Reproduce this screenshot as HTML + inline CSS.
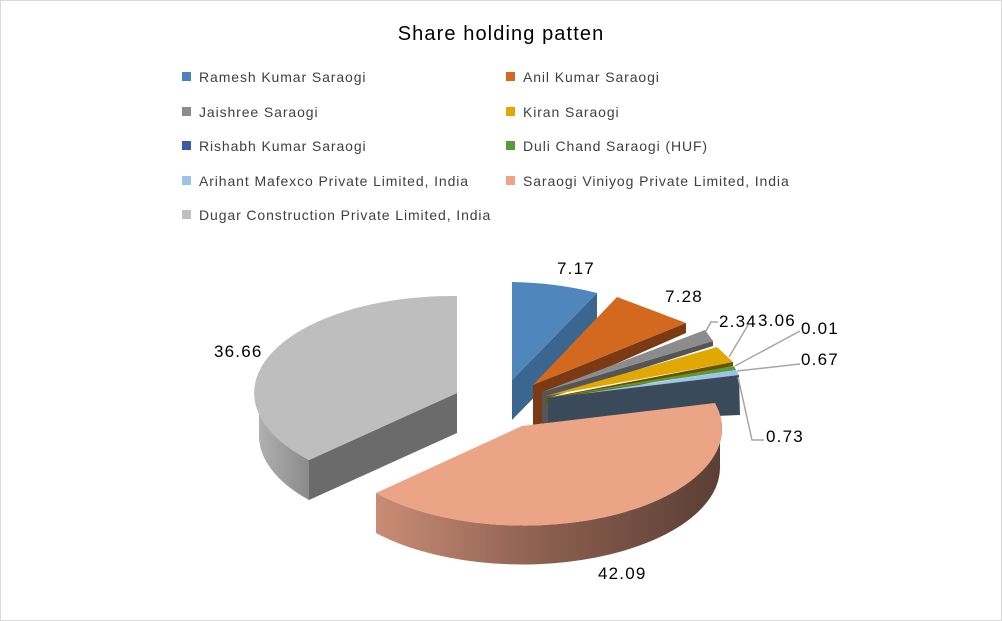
<!DOCTYPE html>
<html><head><style>
body{margin:0;background:#fff}
svg{display:block;font-family:"Liberation Sans",sans-serif}
</style></head><body>
<svg width="1002" height="621" viewBox="0 0 1002 621">
<defs>
<linearGradient id="sg" x1="0" x2="1" y1="0" y2="0">
<stop offset="0" stop-color="#c98d75"/><stop offset="0.5" stop-color="#8a5e4e"/><stop offset="1" stop-color="#5a3e35"/>
</linearGradient>
<linearGradient id="gg" x1="0" x2="1"><stop offset="0" stop-color="#b0b0b0"/><stop offset="1" stop-color="#8a8a8a"/></linearGradient>
</defs>
<rect x="0.5" y="0.5" width="1001" height="620" fill="#fff" stroke="#d9d9d9"/>
<text x="501" y="40" font-size="20" letter-spacing="1.1" text-anchor="middle" fill="#000">Share holding patten</text>
<g font-size="14" fill="#404040" letter-spacing="0.9">
<rect x="182" y="72" width="9" height="9" fill="#4f81bd"/><text x="199" y="82">Ramesh Kumar Saraogi</text>
<rect x="506" y="72" width="9" height="9" fill="#d2691e"/><text x="523" y="82">Anil Kumar Saraogi</text>
<rect x="182" y="107" width="9" height="9" fill="#8c8c8c"/><text x="199" y="117">Jaishree Saraogi</text>
<rect x="506" y="107" width="9" height="9" fill="#e0a800"/><text x="523" y="117">Kiran Saraogi</text>
<rect x="182" y="141" width="9" height="9" fill="#3a5ba0"/><text x="199" y="151">Rishabh Kumar Saraogi</text>
<rect x="506" y="141" width="9" height="9" fill="#5b9a3a"/><text x="523" y="151">Duli Chand Saraogi (HUF)</text>
<rect x="182" y="176" width="9" height="9" fill="#9dc3e6"/><text x="199" y="186">Arihant Mafexco Private Limited, India</text>
<rect x="506" y="176" width="9" height="9" fill="#f0a385"/><text x="523" y="186">Saraogi Viniyog Private Limited, India</text>
<rect x="182" y="210" width="9" height="9" fill="#bfbfbf"/><text x="199" y="220">Dugar Construction Private Limited, India</text>
</g>
<path d="M259,393 A198,97 0 0 0 309,460 L309,500 A198,97 0 0 1 259,433 Z" fill="url(#gg)"/>
<path d="M457,393 L309,460 L309,500 L457,433 Z" fill="#6b6b6b"/>
<path d="M457,393 L457,296 A198,97 0 0 0 309,460 Z" fill="#bebebe"/>
<path d="M597,293 L512,380 L512,420 L597,333 Z" fill="#3a6690"/>
<path d="M512,380 L512,282 A198,97 0 0 1 597,293 Z" fill="#4f86bb"/>
<path d="M686,323 L533,385 L533,425 L545,423 L545,395 L686,333 Z" fill="#7a3a14"/>
<path d="M533,385 L617,297 L686,323 Z" fill="#d2691e"/>
<path d="M713,341 L542,392 L542,425 L548,425 L548,398 L713,346 Z" fill="#555"/>
<path d="M542,392 L705,330 L713,341 Z" fill="#8c8c8c"/>
<path d="M546,396 L717,347 L733,362 Z" fill="#e0a800"/>
<path d="M733,362 L546,398 L546,404 L733,366 Z" fill="#6b5200"/>
<path d="M547,398 L734,366 L736,370 Z" fill="#5b9a3a"/>
<path d="M548,399 L736,370 L739,375 Z" fill="#9dc3e6"/>
<path d="M548,398 L739,375 L740,415 L548,423 Z" fill="#3b4a5a"/>
<path d="M715,403 A198,97 0 0 1 376,493 L376,533 A198,97 0 0 0 720,466 L720,426 Z" fill="url(#sg)"/>
<path d="M522,426 L715,403 A198,97 0 0 1 376,493 Z" fill="#eca486"/>
<g stroke="#a6a6a6" stroke-width="1.5" fill="none">
<path d="M706,331 L711,322 L718,322"/>
<path d="M729,357 L748,325"/>
<path d="M735,366 L800,331"/>
<path d="M737,371 L800,364"/>
<path d="M738,377 L752,440 L764,440"/>
</g>
<g font-size="17" fill="#000" letter-spacing="1.2">
<text x="557" y="274">7.17</text>
<text x="665" y="302">7.28</text>
<text x="719" y="327">2.34</text>
<text x="758" y="326">3.06</text>
<text x="801" y="334">0.01</text>
<text x="801" y="365">0.67</text>
<text x="766" y="442">0.73</text>
<text x="598" y="579">42.09</text>
<text x="214" y="357">36.66</text>
</g>
</svg>
</body></html>
